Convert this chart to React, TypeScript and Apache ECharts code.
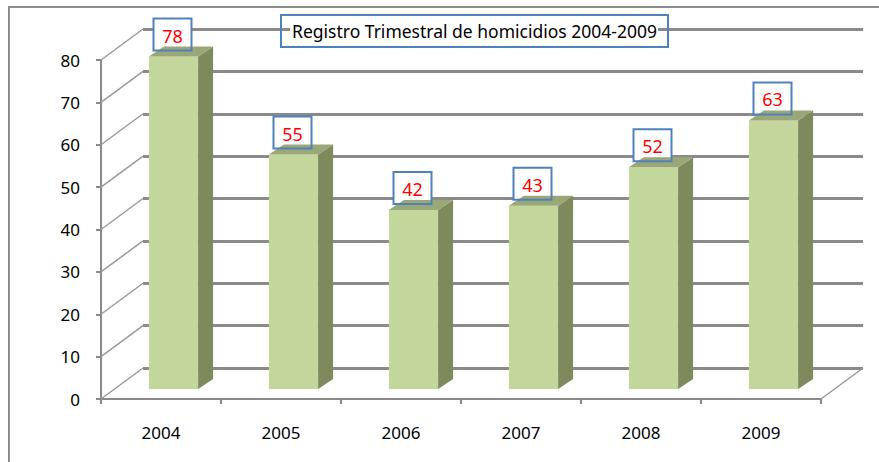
import React, { useEffect, useRef } from "react";
import * as echarts from "echarts";

const years = ["2004", "2005", "2006", "2007", "2008", "2009"];
const homicidios = [78, 55, 42, 43, 52, 63];
const yTicks = [0, 10, 20, 30, 40, 50, 60, 70, 80];
const titleText = "Registro Trimestral de homicidios 2004-2009";

const FONT = "'Noto Sans', 'Open Sans', sans-serif";
const GRID_LINE = "#8a8a8a";

export default function App() {
  const ref = useRef<HTMLDivElement>(null);

  useEffect(() => {
    const chart = echarts.init(ref.current!, null, { renderer: "svg" });
    const DX = 42;
    const DY = -31;
    const BX = 15;
    const BY = -10;

    chart.setOption({
      animation: false,
      backgroundColor: "#ffffff",
      graphic: [
        {
          type: "rect",
          z: 0,
          shape: { x: 9, y: 7, width: 900, height: 500 },
          style: { fill: "none", stroke: "#8c8c8c", lineWidth: 2 },
        },
        {
          type: "rect",
          z: 50,
          shape: { x: 290, y: 21, width: 368, height: 20 },
          style: { fill: "#ffffff", stroke: "none" },
        },
        {
          type: "text",
          z: 51,
          x: 474.5,
          y: 31,
          style: {
            text: titleText,
            fill: "#000",
            font: `17.5px ${FONT}`,
            align: "center",
            verticalAlign: "middle",
          },
        },
        {
          type: "rect",
          z: 52,
          shape: { x: 281, y: 15, width: 387, height: 32 },
          style: { fill: "none", stroke: "#4F81BD", lineWidth: 2 },
        },
      ],
      grid: [
        { left: 101, top: 60, width: 720, height: 339 },
        { left: 143, top: 29, width: 720, height: 339 },
        { left: 113.5, top: 48, width: 720, height: 341 },
      ],
      xAxis: [
        {
          gridIndex: 0,
          type: "category",
          data: years,
          boundaryGap: true,
          axisLine: { lineStyle: { color: GRID_LINE, width: 2 } },
          axisTick: { show: true, length: 5, lineStyle: { color: GRID_LINE, width: 2 } },
          axisLabel: { color: "#000", fontSize: 17, fontFamily: FONT, margin: 25 },
          splitLine: { show: false },
        },
        { gridIndex: 1, type: "category", data: years, show: false },
        { gridIndex: 2, type: "category", data: years, show: false },
      ],
      yAxis: [
        {
          gridIndex: 0,
          type: "value",
          min: 0,
          max: 80,
          interval: 10,
          axisLine: { show: true, lineStyle: { color: GRID_LINE, width: 2 } },
          axisTick: { show: true, length: 5, lineStyle: { color: GRID_LINE, width: 2 } },
          axisLabel: { color: "#000", fontSize: 17, fontFamily: FONT, margin: 21 },
          splitLine: { show: false },
        },
        {
          gridIndex: 1,
          type: "value",
          min: 0,
          max: 80,
          interval: 10,
          axisLine: { show: false },
          axisTick: { show: false },
          axisLabel: { show: false },
          splitLine: { show: true, lineStyle: { color: GRID_LINE, width: 3 } },
        },
        { gridIndex: 2, type: "value", min: 0, max: 80, show: false },
      ],
      series: [
        {
          type: "custom",
          xAxisIndex: 0,
          yAxisIndex: 0,
          z: 1,
          silent: true,
          data: yTicks.map((v) => [0, v]),
          renderItem: (params: any, api: any) => {
            const v = api.value(1);
            const p = api.coord([0, v]);
            const cs = params.coordSys;
            const x0 = cs.x;
            const children: any[] = [
              {
                type: "line",
                shape: { x1: x0, y1: p[1], x2: x0 + DX, y2: p[1] + DY },
                style: { stroke: "#9a9a9a", lineWidth: 1.5 },
              },
            ];
            if (v === 0) {
              const x1 = cs.x + cs.width;
              children.push({
                type: "line",
                shape: { x1: x1, y1: p[1], x2: x1 + DX, y2: p[1] + DY },
                style: { stroke: "#9a9a9a", lineWidth: 1.5 },
              });
            }
            return { type: "group", children };
          },
        },
        {
          type: "custom",
          xAxisIndex: 2,
          yAxisIndex: 2,
          z: 10,
          silent: true,
          data: homicidios.map((v, i) => [i, v]),
          renderItem: (params: any, api: any) => {
            const i = api.value(0);
            const v = api.value(1);
            const top = api.coord([i, v]);
            const base = api.coord([i, 0]);
            const bw = api.size([1, 0])[0] * 0.41;
            const xl = top[0] - bw / 2;
            const xr = top[0] + bw / 2;
            const cx = top[0] - 1;
            const boxW = 38;
            const boxH = 32;
            const boxY = top[1] - 6 - boxH;
            return {
              type: "group",
              children: [
                {
                  type: "rect",
                  shape: { x: cx - boxW / 2, y: boxY, width: boxW, height: boxH },
                  style: { fill: "#ffffff", stroke: "none" },
                },
                {
                  type: "rect",
                  shape: { x: xl, y: top[1], width: bw, height: base[1] - top[1] },
                  style: { fill: "#C3D69B" },
                },
                {
                  type: "polygon",
                  shape: {
                    points: [
                      [xr, top[1]],
                      [xr + BX, top[1] + BY],
                      [xr + BX, base[1] + BY],
                      [xr, base[1]],
                    ],
                  },
                  style: { fill: "#7E8A5C" },
                },
                {
                  type: "polygon",
                  shape: {
                    points: [
                      [xl, top[1]],
                      [xr, top[1]],
                      [xr + BX, top[1] + BY],
                      [xl + BX, top[1] + BY],
                    ],
                  },
                  style: { fill: "#9AA777" },
                },
                {
                  type: "rect",
                  shape: { x: cx - boxW / 2, y: boxY, width: boxW, height: boxH },
                  style: { fill: "none", stroke: "#4F81BD", lineWidth: 2 },
                },
                {
                  type: "text",
                  x: cx,
                  y: boxY + boxH / 2 + 1,
                  style: {
                    text: String(v),
                    fill: "#FF0000",
                    font: `18px ${FONT}`,
                    align: "center",
                    verticalAlign: "middle",
                  },
                },
              ],
            };
          },
        },
      ],
    });

    return () => {
      chart.dispose();
    };
  }, []);

  return (
    <div
      ref={ref}
      style={{ position: "fixed", left: 0, top: 0, width: 879, height: 462 }}
    />
  );
}
